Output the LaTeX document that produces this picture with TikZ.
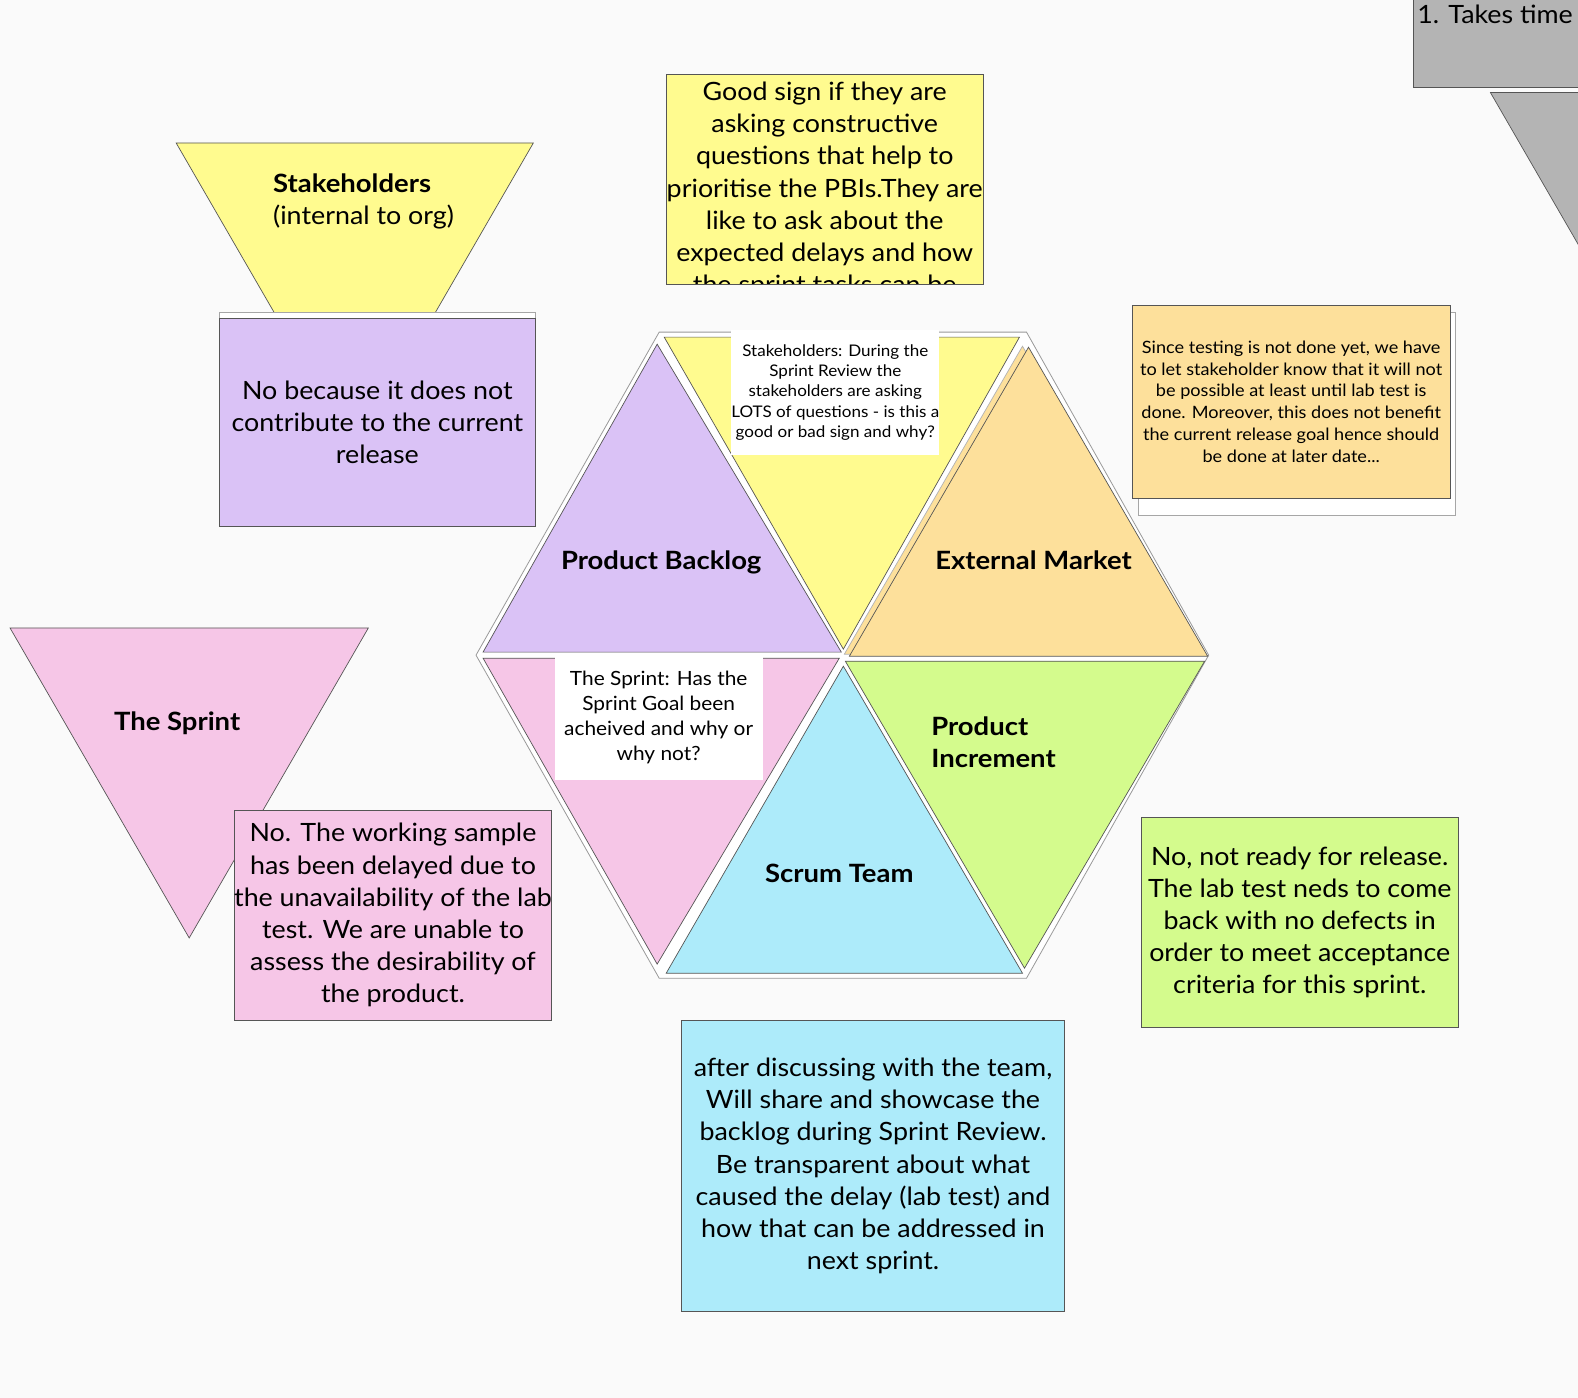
\documentclass[tikz,border=0pt]{standalone}
\usepackage{fontspec}
\setmainfont{Lato}[FakeStretch=1.065, BoldFeatures={FakeStretch=1.09}]
\setsansfont{Lato}[FakeStretch=1.065, BoldFeatures={FakeStretch=1.09}]
\usepackage{xcolor}
\usepackage{tikz}
\usetikzlibrary{positioning}
\definecolor{paper}{HTML}{FAFAFA}
\definecolor{lilac}{HTML}{DAC2F6}
\definecolor{lemon}{HTML}{FFFB8F}
\definecolor{apricot}{HTML}{FDE09B}
\definecolor{rose}{HTML}{F6C6E7}
\definecolor{sky}{HTML}{ADEBFA}
\definecolor{lime}{HTML}{D4FB8D}
\definecolor{ash}{HTML}{B4B4B4}
\definecolor{rim}{HTML}{555555}
\newcommand{\unitpx}{0.5032pt}
\tikzstyle{tri} = [draw=rim, line width=0.35pt, line join=miter]
\tikzstyle{sticky} = [rectangle, draw=rim, line width=0.4pt, align=center, inner sep=0pt, font=\fontsize{12.6}{16.1}\selectfont]
\tikzstyle{backing} = [rectangle, draw=gray!70, fill=white, line width=0.4pt, inner sep=0pt]
\tikzstyle{question} = [rectangle, fill=white, align=center, inner sep=0pt]
\tikzstyle{heading} = [font=\bfseries\fontsize{12.6}{16.4}\selectfont]

\begin{document}
\begin{tikzpicture}[x=\unitpx, y=-\unitpx, font=\sffamily]
	\useasboundingbox (0,0) rectangle (1568,1389);
	\fill[paper] (0,0) rectangle (1568,1389);
	\clip (0,0) rectangle (1568,1389);

	\filldraw [tri, fill=ash] (1404,-10) rectangle (1600,86.5);
	\node (takes) [anchor=base west, inner sep=0pt, font=\fontsize{12.6}{16.1}\selectfont] at (1408,23) {1. Takes time a};
	\filldraw [tri, fill=ash] (1481,92) -- (1837,92) -- (1659,400) -- cycle;

	\filldraw [tri, fill=lemon] (175,142) -- (530,142) -- (352.5,449) -- cycle;
	\node (shside) [anchor=west, align=left, inner sep=0pt, font=\fontsize{12.6}{16.1}\selectfont] at (271,200) {\textbf{Stakeholders}\\(internal to org)};
	\node (pbback) [backing, minimum width=314*\unitpx, minimum height=213*\unitpx] at (375,416.5) {};
	\node (pbnote) [sticky, fill=lilac, minimum width=314*\unitpx, minimum height=207*\unitpx] at (375,419.5) {No because it does not\\contribute to the current\\release};

	\begin{scope}
		\clip (662,74) rectangle (977,283);
		\node (goodbox) [sticky, fill=lemon, minimum width=315*\unitpx, minimum height=209*\unitpx] at (819.5,178.5) {};
		\node (goodnote) [anchor=north, align=center, inner sep=0pt, font=\fontsize{12.6}{16.1}\selectfont] at (819.5,81) {Good sign if they are\\asking constructive\\questions that help to\\prioritise the PBIs.They are\\like to ask about the\\expected delays and how\\the sprint tasks can be};
	\end{scope}
	\draw [rim, line width=0.4pt] (662,74) rectangle (977,283);

	\filldraw [fill=white, draw=gray!80, line width=0.4pt] (655,330) -- (1020,330) -- (1201,651) -- (1020,972) -- (655,972) -- (473,651) -- cycle;
	\filldraw [tri, fill=lemon] (660,335) -- (1013,335) -- (838,645) -- cycle;
	\filldraw [tri, fill=lilac] (653,342) -- (836,648) -- (480,648) -- cycle;
	\filldraw [tri, fill=apricot, draw=gray!60] (1016,344) -- (1195,650) -- (839,650) -- cycle;
	\filldraw [tri, fill=apricot] (1022,345) -- (1200,652) -- (844,652) -- cycle;
	\filldraw [tri, fill=rose] (480,654) -- (834,654) -- (653,958) -- cycle;
	\filldraw [tri, fill=lime] (840,657) -- (1197,657) -- (1018,962) -- cycle;
	\filldraw [tri, fill=sky] (838,662) -- (1016,967) -- (662,967) -- cycle;

	\node (shq) [question, minimum width=206*\unitpx, minimum height=124*\unitpx, font=\fontsize{8}{10.1}\selectfont] at (830,390) {Stakeholders: During the\\Sprint Review the\\stakeholders are asking\\LOTS of questions - is this a\\good or bad sign and why?};
	\node (spq) [question, minimum width=207*\unitpx, minimum height=124*\unitpx, font=\fontsize{9.8}{12.6}\selectfont] at (654.5,713) {The Sprint: Has the\\Sprint Goal been\\acheived and why or\\why not?};

	\node (backlog) [heading] at (657,559) {Product Backlog};
	\node (market) [heading] at (1027,557) {External Market};
	\node (increment) [heading, anchor=west, align=left, inner sep=0pt] at (925,737.5) {Product\\Increment};
	\node (team) [heading] at (834,868) {Scrum Team};

	\filldraw [tri, fill=rose] (10,624) -- (366,624) -- (188,932) -- cycle;
	\node (sprint) [heading] at (176,719) {The Sprint};
	\node (sprintnote) [sticky, fill=rose, minimum width=315*\unitpx, minimum height=209*\unitpx] at (390.5,909.5) {No. The working sample\\has been delayed due to\\the unavailability of the lab\\test. We are unable to\\assess the desirability of\\the product.};

	\node (marketback) [backing, minimum width=315*\unitpx, minimum height=202*\unitpx] at (1288.5,411) {};
	\node (marketnote) [sticky, fill=apricot, minimum width=316*\unitpx, minimum height=192*\unitpx, font=\fontsize{8.5}{10.9}\selectfont] at (1283,399) {Since testing is not done yet, we have\\to let stakeholder know that it will not\\be possible at least until lab test is\\done. Moreover, this does not benefit\\the current release goal hence should\\be done at later date...};

	\node (incnote) [sticky, fill=lime, minimum width=315*\unitpx, minimum height=209*\unitpx] at (1291.5,916.5) {No, not ready for release.\\The lab test neds to come\\back with no defects in\\order to meet acceptance\\criteria for this sprint.};

	\node (teamnote) [sticky, fill=sky, minimum width=381*\unitpx, minimum height=289*\unitpx] at (867.5,1158.5) {after discussing with the team,\\Will share and showcase the\\backlog during Sprint Review.\\Be transparent about what\\caused the delay (lab test) and\\how that can be addressed in\\next sprint.};
\end{tikzpicture}
\end{document}
